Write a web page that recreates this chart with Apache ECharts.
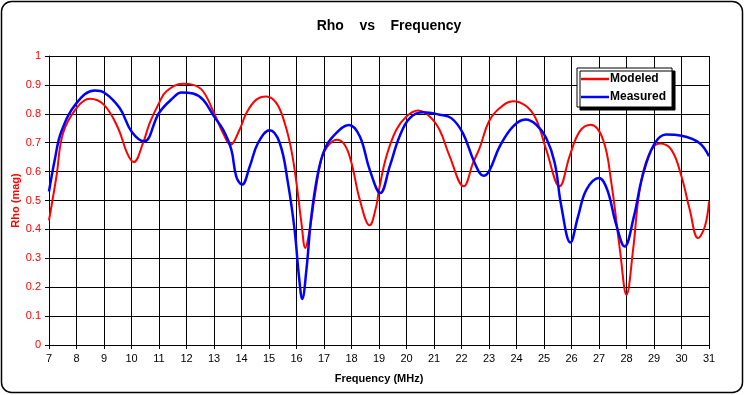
<!DOCTYPE html>
<html>
<head>
<meta charset="utf-8">
<script src="https://cdn.jsdelivr.net/npm/echarts@6/dist/echarts.min.js"></script>
<style>
html,body{margin:0;padding:0;background:#fff;}
#chart{width:745px;height:395px;}
</style>
</head>
<body>
<div id="chart"></div>
<script>
var modeledFreq = [7.0,7.27,7.51,8.0,8.48,9.0,9.51,9.84,10.08,10.42,10.66,11.0,11.27,11.87,12.24,12.6,13.0,13.33,13.6,13.93,14.18,14.54,14.9,15.27,15.57,15.81,16.0,16.18,16.32,16.48,16.66,16.9,17.09,17.45,17.75,18.0,18.3,18.66,18.9,19.0,19.27,19.63,20.0,20.42,20.84,21.2,21.57,22.08,22.42,22.66,23.0,23.39,23.87,24.36,24.72,25.08,25.57,25.93,26.3,26.7,27.15,27.45,27.76,28.0,28.24,28.48,28.84,29.21,29.63,30.0,30.3,30.6,30.85,31.0];
var modeledRho = [0.431,0.583,0.733,0.82,0.852,0.831,0.751,0.664,0.633,0.699,0.768,0.837,0.878,0.904,0.90,0.878,0.803,0.733,0.693,0.745,0.803,0.849,0.86,0.837,0.768,0.676,0.56,0.422,0.336,0.399,0.514,0.641,0.682,0.71,0.693,0.63,0.503,0.414,0.48,0.537,0.653,0.745,0.791,0.811,0.791,0.745,0.653,0.549,0.63,0.682,0.774,0.82,0.843,0.826,0.78,0.676,0.549,0.653,0.739,0.762,0.71,0.56,0.33,0.174,0.33,0.537,0.664,0.697,0.676,0.583,0.468,0.37,0.41,0.497];
var measuredFreq = [7.0,7.21,7.45,8.0,8.66,9.0,9.57,10.0,10.46,11.0,11.51,11.81,12.24,12.6,13.0,13.33,13.63,13.81,14.02,14.3,14.6,15.02,15.39,15.69,15.93,16.09,16.21,16.36,16.54,16.78,17.02,17.33,17.91,18.3,18.66,19.05,19.39,19.75,20.12,20.6,21.2,21.63,22.05,22.48,22.8,23.0,23.39,23.87,24.33,24.72,25.08,25.39,25.63,25.96,26.24,26.54,27.0,27.3,27.61,27.93,28.27,28.58,29.0,29.44,30.0,30.65,31.0];
var measuredRho = [0.531,0.641,0.739,0.837,0.881,0.874,0.82,0.739,0.705,0.803,0.855,0.874,0.87,0.849,0.791,0.745,0.676,0.583,0.555,0.618,0.699,0.743,0.699,0.56,0.399,0.237,0.159,0.26,0.445,0.595,0.676,0.722,0.761,0.722,0.607,0.526,0.618,0.722,0.785,0.805,0.797,0.785,0.733,0.63,0.586,0.601,0.687,0.756,0.78,0.762,0.716,0.63,0.48,0.355,0.445,0.537,0.578,0.537,0.422,0.341,0.445,0.583,0.693,0.728,0.724,0.699,0.653];

function pairs(xs, ys){ var out=[]; for(var i=0;i<xs.length;i++){ out.push([xs[i], ys[i]]); } return out; }

var FONT = '"Liberation Sans", Arial, sans-serif';
var chart = echarts.init(document.getElementById('chart'), null, {renderer:'canvas'});
chart.setOption({
  animation:false,
  backgroundColor:'#ffffff',
  textStyle:{fontFamily:FONT},
  graphic:[{
    type:'rect', silent:true, z:-10,
    shape:{x:1.5,y:1.5,width:741,height:391,r:10},
    style:{fill:'#ffffff',stroke:'#000000',lineWidth:1.5}
  }],
  title:{
    text:'Rho    vs    Frequency',
    left:384, top:14, textAlign:'center',
    textStyle:{fontFamily:FONT,fontSize:14,fontWeight:'bold',color:'#000'}
  },
  legend:{
    orient:'vertical', left:577, top:68,
    backgroundColor:'#ffffff', borderColor:'#000', borderWidth:1,
    shadowColor:'#000', shadowOffsetX:3, shadowOffsetY:3, shadowBlur:0,
    padding:[5,6,4,4], itemGap:6, itemWidth:28, itemHeight:2.5, icon:'rect',
    textStyle:{fontFamily:FONT,fontSize:12,fontWeight:'bold',color:'#000',padding:[0,0,0,-4]},
    data:['Modeled','Measured']
  },
  grid:{left:49,right:36,top:56,bottom:50,containLabel:false,outerBoundsMode:'none'},
  xAxis:{
    type:'value', min:7, max:31, interval:1,
    name:'Frequency (MHz)', nameLocation:'middle', nameGap:28,
    nameTextStyle:{fontFamily:FONT,fontSize:11,fontWeight:'bold',color:'#000'},
    axisLine:{lineStyle:{color:'#000',width:1}},
    axisTick:{show:true,length:4,lineStyle:{color:'#000'}},
    axisLabel:{fontFamily:FONT,fontSize:11,color:'#000',margin:8},
    splitLine:{show:true,lineStyle:{color:'#000',width:1}}
  },
  yAxis:{
    type:'value', min:0, max:1, interval:0.1,
    name:'Rho (mag)', nameLocation:'middle', nameGap:28, nameMoveOverlap:false,
    nameTextStyle:{fontFamily:FONT,fontSize:11,fontWeight:'bold',color:'#ff0000'},
    axisLine:{show:true,lineStyle:{color:'#000',width:1}},
    axisTick:{show:true,length:4,lineStyle:{color:'#000'}},
    axisLabel:{fontFamily:FONT,fontSize:11,color:'#ff0000',margin:8},
    splitLine:{show:true,lineStyle:{color:'#000',width:1}}
  },
  series:[
    {name:'Modeled',type:'line',data:pairs(modeledFreq,modeledRho),smooth:0.4,symbol:'none',
     lineStyle:{color:'#ff0000',width:2},itemStyle:{color:'#ff0000'},z:3},
    {name:'Measured',type:'line',data:pairs(measuredFreq,measuredRho),smooth:0.4,symbol:'none',
     lineStyle:{color:'#0000ff',width:2.5},itemStyle:{color:'#0000ff'},z:4}
  ]
});
</script>
</body>
</html>
